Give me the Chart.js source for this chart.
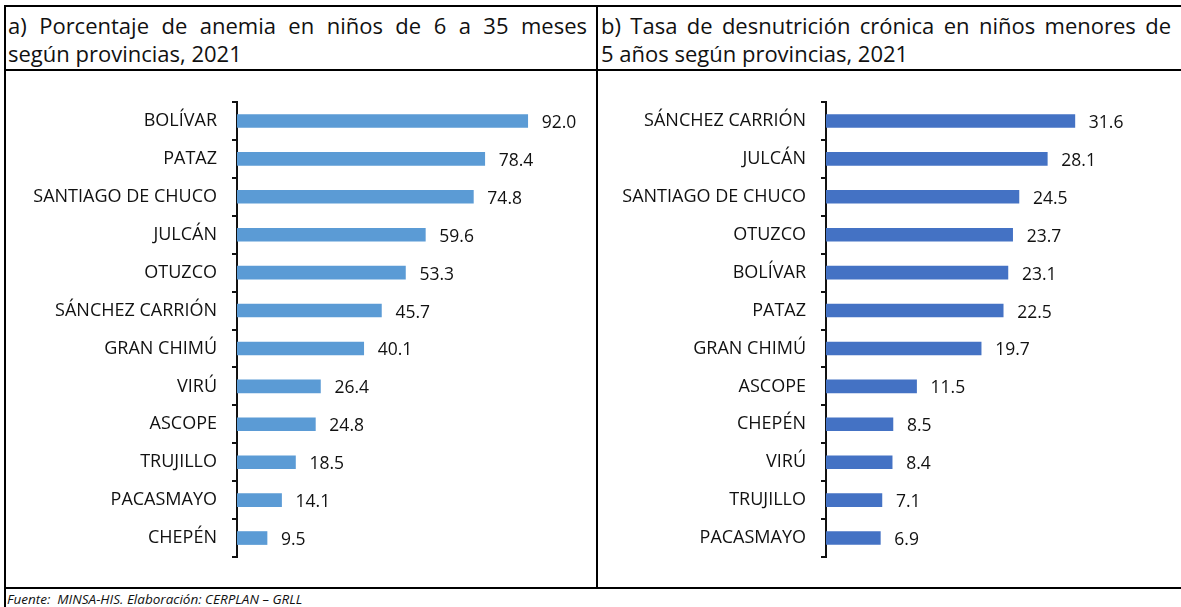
<!DOCTYPE html>
<html>
<head>
<meta charset="utf-8">
<script src="https://cdn.jsdelivr.net/npm/chart.js@4/dist/chart.umd.min.js"></script>
<style>
  html, body { margin: 0; padding: 0; background: #fff; }
  body { width: 1181px; height: 607px; position: relative; overflow: hidden; font-family: 'Open Sans', 'Noto Sans', sans-serif; color: #111; }
  .line { position: absolute; background: #000; }
  .title { position: absolute; top: 11px; font-size: 22px; line-height: 28px; color: #111; }
  .title span { display: block; white-space: nowrap; }
  .title .j { text-align: justify; text-align-last: justify; white-space: normal; }
  canvas { position: absolute; }
  #fuente { position: absolute; left: 7px; top: 590px; font-size: 13.5px; font-style: italic; color: #111; white-space: pre; }
</style>
</head>
<body>
<div class="line" style="left:4px;top:5px;width:1177px;height:2px"></div>
<div class="line" style="left:4px;top:69px;width:1177px;height:2px"></div>
<div class="line" style="left:4px;top:587px;width:1177px;height:2px"></div>
<div class="line" style="left:4px;top:5px;width:2px;height:602px"></div>
<div class="line" style="left:596px;top:5px;width:2px;height:584px"></div>

<div class="title" style="left:8px;width:579px"><span class="j">a) Porcentaje de anemia en niños de 6 a 35 meses</span><span>según provincias, 2021</span></div>
<div class="title" style="left:601px;width:570px"><span class="j">b) Tasa de desnutrición crónica en niños menores de</span><span>5 años según provincias, 2021</span></div>

<canvas id="chart-a" width="590" height="517" style="left:6px;top:71px"></canvas>
<canvas id="chart-b" width="580" height="517" style="left:598px;top:71px"></canvas>

<div id="fuente">Fuente:  MINSA-HIS. Elaboración: CERPLAN – GRLL</div>

<script>
// Datos del grafico a) anemia
var anemiaProvincias = ['BOLÍVAR', 'PATAZ', 'SANTIAGO DE CHUCO', 'JULCÁN', 'OTUZCO', 'SÁNCHEZ CARRIÓN', 'GRAN CHIMÚ', 'VIRÚ', 'ASCOPE', 'TRUJILLO', 'PACASMAYO', 'CHEPÉN'];
var anemiaValores = [92.0, 78.4, 74.8, 59.6, 53.3, 45.7, 40.1, 26.4, 24.8, 18.5, 14.1, 9.5];

// Datos del grafico b) desnutricion cronica
var desnutricionProvincias = ['SÁNCHEZ CARRIÓN', 'JULCÁN', 'SANTIAGO DE CHUCO', 'OTUZCO', 'BOLÍVAR', 'PATAZ', 'GRAN CHIMÚ', 'ASCOPE', 'CHEPÉN', 'VIRÚ', 'TRUJILLO', 'PACASMAYO'];
var desnutricionValores = [31.6, 28.1, 24.5, 23.7, 23.1, 22.5, 19.7, 11.5, 8.5, 8.4, 7.1, 6.9];

var FONT = "'Open Sans', 'Noto Sans', sans-serif";

// Etiquetas de valor al final de cada barra
var valueLabels = {
    id: 'valueLabels',
    afterDatasetsDraw: function (chart) {
        var ctx = chart.ctx;
        var meta = chart.getDatasetMeta(0);
        var data = chart.data.datasets[0].data;
        ctx.save();
        ctx.font = '17.5px ' + FONT;
        ctx.fillStyle = '#111';
        ctx.textAlign = 'left';
        ctx.textBaseline = 'middle';
        meta.data.forEach(function (bar, i) {
            ctx.fillText(data[i].toFixed(1), bar.x + 14, bar.y + 2);
        });
        ctx.restore();
    }
};

function buildChart(id, labels, values, color, axisWidth, maxX, padRight) {
    return new Chart(document.getElementById(id), {
        type: 'bar',
        data: {
            labels: labels,
            datasets: [{
                data: values,
                backgroundColor: color,
                barThickness: 13
            }]
        },
        options: {
            indexAxis: 'y',
            responsive: false,
            animation: false,
            layout: { padding: { top: 31, bottom: 31, left: 0, right: padRight } },
            plugins: {
                legend: { display: false },
                tooltip: { enabled: false }
            },
            scales: {
                x: { display: false, min: 0, max: maxX },
                y: {
                    afterFit: function (scale) { scale.width = axisWidth; },
                    border: { display: true, color: '#111', width: 2 },
                    grid: { drawOnChartArea: false, drawTicks: true, tickLength: 5, color: '#111', lineWidth: 2, offset: true },
                    ticks: { padding: 15, color: '#111', font: { family: FONT, size: 18 } }
                }
            }
        },
        plugins: [valueLabels]
    });
}

buildChart('chart-a', anemiaProvincias, anemiaValores, '#5B9BD5', 231, 100, 43);
buildChart('chart-b', desnutricionProvincias, desnutricionValores, '#4472C4', 228, 40, 37);
</script>
</body>
</html>
